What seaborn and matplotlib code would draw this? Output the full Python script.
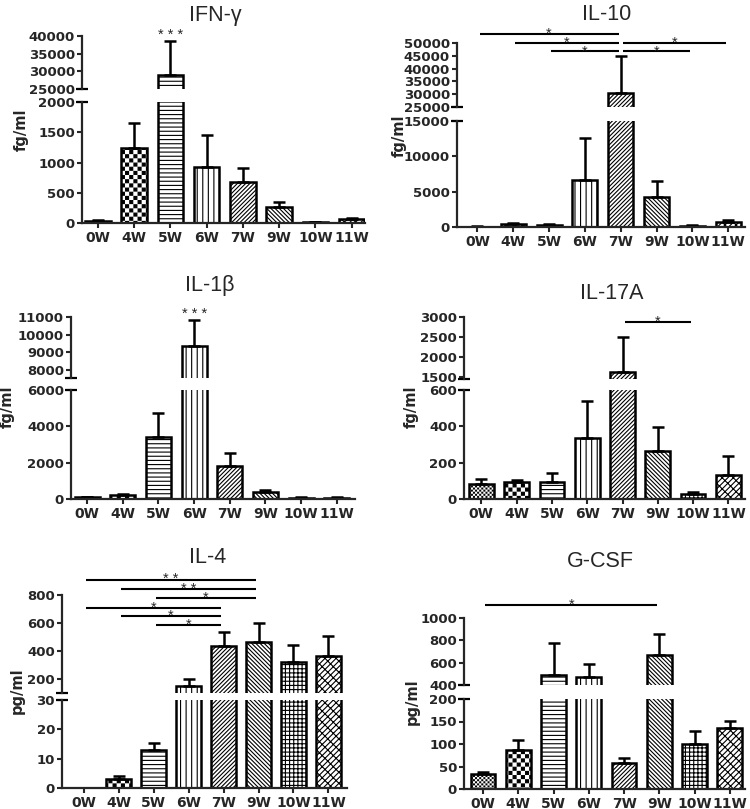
"""
Cytokine time course - six broken-axis bar panels
"""

import numpy as np
import pandas as pd
import matplotlib
matplotlib.use("Agg")
import matplotlib.pyplot as plt
import matplotlib.hatch as mhatch
from matplotlib.path import Path
from matplotlib.ticker import FormatStrFormatter
import seaborn as sns
import warnings
warnings.filterwarnings("ignore")

# =====================================================
# Data
# =====================================================
WEEKS = ["0W", "4W", "5W", "6W", "7W", "9W", "10W", "11W"]

IFNG_MEAN = [35, 1240, 28900, 930, 685, 263, 12, 65]
IFNG_ERR = [20, 420, 9800, 520, 220, 77, 6, 17]

IL10_MEAN = [60, 380, 240, 6600, 30500, 4250, 200, 750]
IL10_ERR = [30, 180, 130, 5950, 14500, 2300, 100, 300]

IL1B_MEAN = [85, 200, 3440, 9340, 1790, 385, 55, 55]
IL1B_ERR = [40, 90, 1310, 1510, 730, 90, 35, 35]

IL17A_MEAN = [82, 91, 91, 338, 1625, 262, 29, 134]
IL17A_ERR = [30, 15, 50, 202, 875, 133, 9, 104]

IL4_MEAN = [0, 3.05, 12.9, 148, 433, 462, 321, 367]
IL4_ERR = [0, 1.05, 2.5, 54, 103, 138, 122, 138]

GCSF_MEAN = [33.5, 87, 489, 468, 57, 666, 99.5, 135]
GCSF_ERR = [5.2, 21, 289, 118, 13, 189, 29.5, 17]

# significance bars: (from week, to week, height, label)
IFNG_SIG = []
IL10_SIG = [(0, 4, 53500, "*"), (1, 4, 50000, "*"), (2, 4, 46700, "*"),
            (4, 7, 50000, "*"), (4, 6, 46700, "*")]
IL1B_SIG = []
IL17A_SIG = [(4, 6, 2875, "*")]
IL4_SIG = [(0, 5, 910, "* *"), (1, 5, 843, "* *"), (2, 5, 779, "*"),
           (0, 4, 707, "*"), (1, 4, 648, "*"), (2, 4, 588, "*")]
GCSF_SIG = [(0, 5, 1118, "*")]

# stars over a single bar: (week, label)
IFNG_STARS = [(2, "* * *")]
IL1B_STARS = [(3, "* * *")]


# =====================================================
# Checkerboard hatch (not built into matplotlib)
# =====================================================
class CheckerHatch(mhatch.HatchPatternBase):
    def __init__(self, hatch, density):
        n = int(hatch.count("c") * density) // 2 * 2
        self.num_cells = n
        self.num_vertices = (n * n // 2) * 5

    def set_vertices_and_codes(self, vertices, codes):
        n = self.num_cells
        s = 1.0 / n
        pad = 0.006
        k = 0
        for i in range(n):
            for j in range(n):
                if (i + j) % 2:
                    continue
                x0, y0 = i * s + pad, j * s + pad
                x1, y1 = (i + 1) * s - pad, (j + 1) * s - pad
                vertices[k:k + 5] = [(x0, y0), (x1, y0), (x1, y1), (x0, y1), (x0, y0)]
                codes[k:k + 5] = [Path.MOVETO, Path.LINETO, Path.LINETO,
                                  Path.LINETO, Path.CLOSEPOLY]
                k += 5


mhatch._hatch_types.append(CheckerHatch)

HATCHES = ["cccccccc", "cccc", "----", "|||", "/" * 8, "\\" * 8,
           "++++", "/" * 6 + "\\" * 3]

# =====================================================
# Style
# =====================================================
sns.set_style("ticks")
plt.rcParams["font.family"] = ["Liberation Sans", "DejaVu Sans"]
plt.rcParams["hatch.linewidth"] = 0.8

W_PX, H_PX = 750, 809
LW = 1.8
YTICK_FONT = dict(family="DejaVu Sans", weight="bold", size=9.5)
XTICK_FONT = dict(family="DejaVu Sans", weight="bold", size=10)
YLAB_FONT = dict(family="DejaVu Sans", weight="bold", size=10.5)

fig = plt.figure(figsize=(W_PX / 100, H_PX / 100), dpi=100)


def add_axes_px(x0, x1, y_top, y_bot):
    return fig.add_axes([x0 / W_PX, 1 - y_bot / H_PX,
                         (x1 - x0) / W_PX, (y_bot - y_top) / H_PX])


def draw_panel(p):
    ax_hi = add_axes_px(p["x0"], p["x1"], p["hi_px"][0], p["hi_px"][1])
    ax_lo = add_axes_px(p["x0"], p["x1"], p["lo_px"][0], p["lo_px"][1])

    df = pd.DataFrame({"week": WEEKS, "value": p["mean"]})
    n = len(WEEKS)
    for ax in (ax_hi, ax_lo):
        sns.barplot(data=df, x="week", y="value", order=WEEKS, color="white",
                    saturation=1, edgecolor="black", linewidth=LW, width=0.7,
                    errorbar=None, ax=ax)
        for bar, h in zip(ax.patches, HATCHES):
            bar.set_hatch(h)
        ax.errorbar(np.arange(n), p["mean"], yerr=[np.zeros(n), p["err"]],
                    fmt="none", ecolor="black", elinewidth=LW, capsize=4.5,
                    capthick=LW)
        ax.set_xlim(p["xlim"])
        ax.set_xlabel("")
        ax.set_ylabel("")
        ax.yaxis.set_major_formatter(FormatStrFormatter("%d"))
        ax.tick_params(axis="y", length=3.5, width=1.5, pad=1.5)
        for side in ("top", "right"):
            ax.spines[side].set_visible(False)
        ax.spines["left"].set_linewidth(1.6)
        ax.spines["bottom"].set_linewidth(1.6)

    ax_hi.set_ylim(p["hi_lim"])
    ax_hi.set_yticks(p["hi_ticks"])
    ax_lo.set_ylim(p["lo_lim"])
    ax_lo.set_yticks(p["lo_ticks"])
    for ax in (ax_hi, ax_lo):
        for lab in ax.get_yticklabels():
            lab.set(**YTICK_FONT)

    ax_hi.spines["bottom"].set_visible(False)
    ax_hi.tick_params(axis="x", bottom=False, labelbottom=False)
    ax_lo.tick_params(axis="x", length=3.5, width=1.5, pad=2)
    for lab in ax_lo.get_xticklabels():
        lab.set(**XTICK_FONT)

    # break marks on the y axis
    ax_hi.plot([0], [0], marker="_", ms=9, mew=1.6, color="black",
               transform=ax_hi.transAxes, clip_on=False)
    ax_lo.plot([0], [1], marker="_", ms=9, mew=1.6, color="black",
               transform=ax_lo.transAxes, clip_on=False)

    # significance bars
    for i, j, y, label in p["sig"]:
        ax_hi.plot([i + 0.06, j - 0.06], [y, y], color="black", lw=1.5,
                   clip_on=False, solid_capstyle="butt")
        ax_hi.annotate(label, xy=((i + j) / 2, y), xytext=(0, -2.8),
                       textcoords="offset points", ha="center", va="baseline",
                       fontsize=10.5, annotation_clip=False)
    for i, label in p["stars"]:
        top = p["mean"][i] + p["err"][i]
        ax_hi.annotate(label, xy=(i, top), xytext=(0, 1.5),
                       textcoords="offset points", ha="center", va="baseline",
                       fontsize=10.5, annotation_clip=False)

    fig.text(p["title_xy"][0] / W_PX, 1 - p["title_xy"][1] / H_PX, p["title"],
             ha="center", va="baseline", fontsize=15.5)
    fig.text(p["ylab_xy"][0] / W_PX, 1 - p["ylab_xy"][1] / H_PX, p["ylabel"],
             ha="center", va="center", rotation=90, **YLAB_FONT)


PANELS = [
    dict(title="IFN-γ", ylabel="fg/ml", mean=IFNG_MEAN, err=IFNG_ERR,
         sig=IFNG_SIG, stars=IFNG_STARS,
         x0=82, x1=365, hi_px=(36, 89), lo_px=(102, 223), xlim=(-0.44, 7.37),
         hi_lim=(25000, 40000), hi_ticks=[25000, 30000, 35000, 40000],
         lo_lim=(0, 2000), lo_ticks=[0, 500, 1000, 1500, 2000],
         title_xy=(215, 21.5), ylab_xy=(21, 130)),
    dict(title="IL-10", ylabel="fg/ml", mean=IL10_MEAN, err=IL10_ERR,
         sig=IL10_SIG, stars=[],
         x0=457, x1=745, hi_px=(43, 107), lo_px=(121, 227), xlim=(-0.57, 7.47),
         hi_lim=(25000, 50000),
         hi_ticks=[25000, 30000, 35000, 40000, 45000, 50000],
         lo_lim=(0, 15000), lo_ticks=[0, 5000, 10000, 15000],
         title_xy=(607, 19.5), ylab_xy=(399, 136)),
    dict(title="IL-1β", ylabel="fg/ml", mean=IL1B_MEAN, err=IL1B_ERR,
         sig=IL1B_SIG, stars=IL1B_STARS,
         x0=71, x1=355, hi_px=(317, 378), lo_px=(390, 499), xlim=(-0.45, 7.51),
         hi_lim=(7550, 11000), hi_ticks=[8000, 9000, 10000, 11000],
         lo_lim=(0, 6000), lo_ticks=[0, 2000, 4000, 6000],
         title_xy=(210, 291.5), ylab_xy=(7, 407)),
    dict(title="IL-17A", ylabel="fg/ml", mean=IL17A_MEAN, err=IL17A_ERR,
         sig=IL17A_SIG, stars=[],
         x0=464, x1=745, hi_px=(317, 379), lo_px=(390, 499), xlim=(-0.49, 7.47),
         hi_lim=(1440, 3000), hi_ticks=[1500, 2000, 2500, 3000],
         lo_lim=(0, 600), lo_ticks=[0, 200, 400, 600],
         title_xy=(612, 299), ylab_xy=(411, 407)),
    dict(title="IL-4", ylabel="pg/ml", mean=IL4_MEAN, err=IL4_ERR,
         sig=IL4_SIG, stars=[],
         x0=62, x1=347, hi_px=(595, 693), lo_px=(700, 788), xlim=(-0.62, 7.53),
         hi_lim=(100, 800), hi_ticks=[200, 400, 600, 800],
         lo_lim=(0, 30), lo_ticks=[0, 10, 20, 30],
         title_xy=(208, 563), ylab_xy=(17.5, 691)),
    dict(title="G-CSF", ylabel="pg/ml", mean=GCSF_MEAN, err=GCSF_ERR,
         sig=GCSF_SIG, stars=[],
         x0=464, x1=745, hi_px=(618, 685), lo_px=(699, 789), xlim=(-0.54, 7.43),
         hi_lim=(400, 1000), hi_ticks=[400, 600, 800, 1000],
         lo_lim=(0, 200), lo_ticks=[0, 50, 100, 150, 200],
         title_xy=(600, 567), ylab_xy=(412, 702)),
]

for panel in PANELS:
    draw_panel(panel)

fig.savefig("out.png", dpi=100)
